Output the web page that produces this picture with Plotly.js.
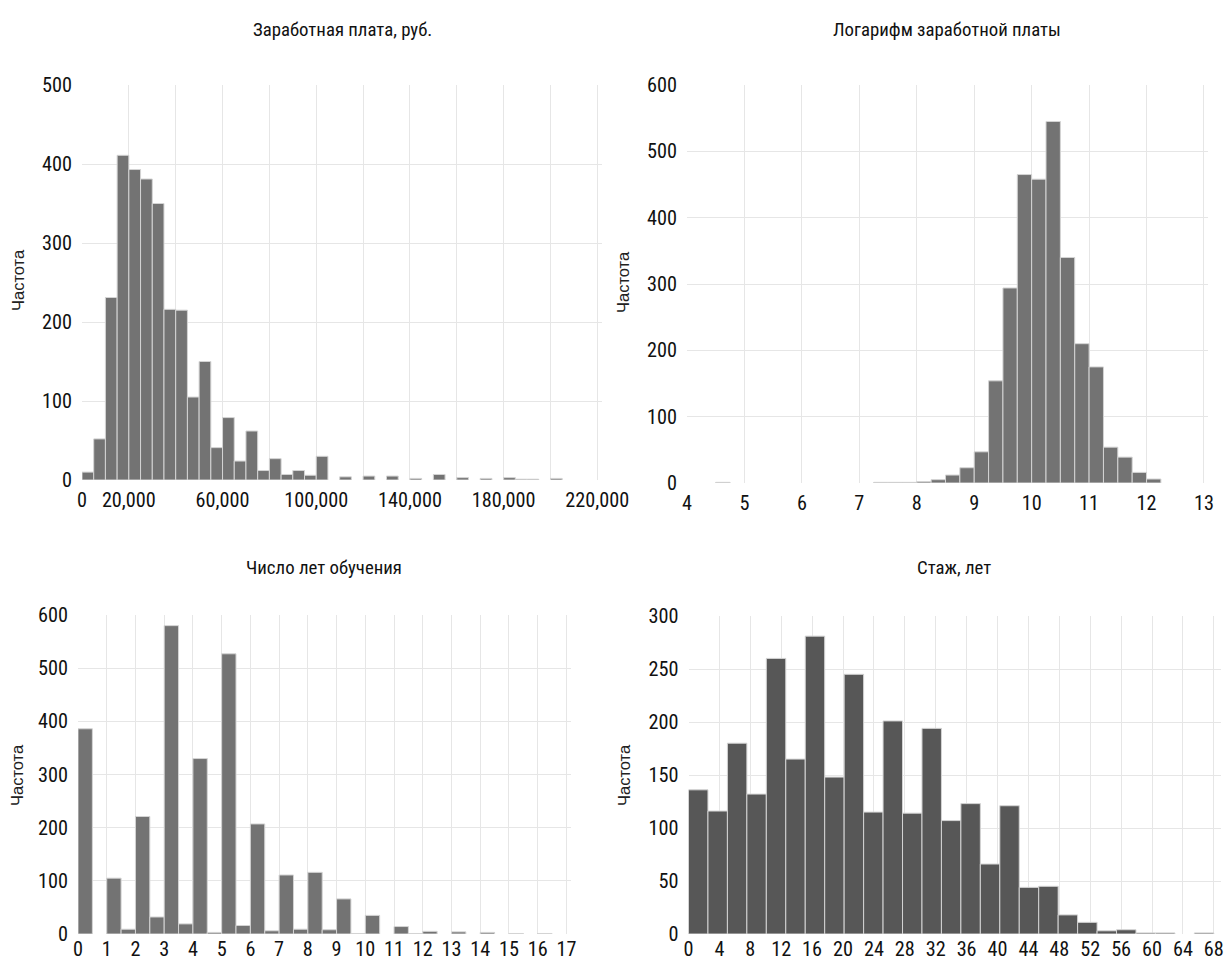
<!DOCTYPE html>
<html>
<head>
<meta charset="utf-8">
<script src="https://cdn.plot.ly/plotly-3.0.1.min.js"></script>
<style>
  html, body { margin: 0; padding: 0; background: #fff; }
  #chart { width: 1231px; height: 962px; }
</style>
</head>
<body>
<div id="chart"></div>
<script>
// ---------------- DATA ----------------
// Panel 1: wage, bins of 5000 starting at 0
const wageBinStart = 0;
const wageBinSize = 5000;
const wageCounts = [10, 52, 231, 411, 393, 381, 350, 216, 215, 105, 150, 41, 79, 24, 62, 12, 27, 7, 12, 6, 30,
                    0, 4, 0, 5, 0, 5, 0, 2, 0, 7, 0, 3, 0, 2, 0, 3, 1, 1, 0, 2];
const wageTickVals = [0, 20000, 40000, 60000, 80000, 100000, 120000, 140000, 160000, 180000, 200000, 220000];
const wageTickText = ["0", "20,000", "", "60,000", "", "100,000", "", "140,000", "", "180,000", "", "220,000"];

// Panel 2: log wage, bins of 0.25 starting at 4 (null = no bin)
const lnBinStart = 4;
const lnBinSize = 0.25;
const lnCounts = [null, null, 1, null, null, null, null, null, null, null, null, null, null,
                  1, 1, 1, 2, 5, 12, 23, 47, 154, 294, 465, 458, 545, 340, 210, 175, 54, 39, 16, 6];

// Panel 3: years of schooling, bins of 0.5 starting at 0
const eduBinStart = 0;
const eduBinSize = 0.5;
const eduCounts = [386, 0, 105, 9, 221, 32, 580, 19, 330, 3, 527, 16, 207, 6, 111, 9, 116, 8, 66, 1, 35, 0, 14, 1, 5, 0, 4, 0, 3, 0, 1, 0, 1, 0];

// Panel 4: experience, 27 bins over 0..68
const expBinStart = 0;
const expBinSize = 68 / 27;
const expCounts = [136, 116, 180, 132, 260, 165, 281, 148, 245, 115, 201, 114, 194, 107, 123, 66, 121, 44, 45, 18, 11, 3, 4, 1, 1, 0, 1];

const titles = ["Заработная плата, руб.", "Логарифм заработной платы", "Число лет обучения", "Стаж, лет"];
const yTitle = "Частота";

// ---------------- FONT PICK (narrowest installed condensed face) ----------------
const ctx = document.createElement("canvas").getContext("2d");
function measure(font, txt) {
  ctx.font = "100px " + font;
  return ctx.measureText(txt).width;
}
const probe = "0123456789 Заработная";
function installed(fam) {
  return measure('"' + fam + '", monospace', probe) !== measure("monospace", probe) ||
         measure('"' + fam + '", serif', probe) !== measure("serif", probe);
}
const candidates = ["Liberation Sans Narrow", "Arial Narrow", "Roboto Condensed", "Noto Sans Condensed",
                    "Open Sans Condensed", "DejaVu Sans Condensed"];
let fam = null;
for (const c of candidates) { if (installed(c)) { fam = c; break; } }
let useStretch = false;
if (!fam) { fam = "Noto Sans"; useStretch = true; }
const narrow = '"' + fam + '", "DejaVu Sans Condensed", sans-serif';
if (useStretch) {
  const axes = ["x", "x2", "x3", "x4", "y", "y2", "y3", "y4"];
  const sel = axes.map(a => "g." + a + "tick text").join(", ") +
              ", .annotation[data-index='0'] text, .annotation[data-index='1'] text," +
              " .annotation[data-index='2'] text, .annotation[data-index='3'] text";
  const st = document.createElement("style");
  st.textContent = sel + " { font-stretch: condensed; }";
  document.head.appendChild(st);
}

// ---------------- DRAW ----------------
const W = 1231, H = 962;
let tickSize = 20.5, titleSize = 18.5;
const gridColor = "#e6e6e6";

function centers(start, size, counts) {
  return counts.map((_, i) => start + size * (i + 0.5));
}
function barTrace(start, size, counts, xa, ya, fill) {
  return {
    type: "bar",
    x: centers(start, size, counts),
    y: counts.map(v => (v === 0 ? null : v)),
    width: counts.map(() => size),
    xaxis: xa, yaxis: ya,
    marker: {color: fill, line: {color: "#d4d4d4", width: 1}},
    hoverinfo: "x+y",
    showlegend: false
  };
}

const traces = [
  barTrace(wageBinStart, wageBinSize, wageCounts, "x", "y", "#737373"),
  barTrace(lnBinStart, lnBinSize, lnCounts, "x2", "y2", "#737373"),
  barTrace(eduBinStart, eduBinSize, eduCounts, "x3", "y3", "#737373"),
  barTrace(expBinStart, expBinSize, expCounts, "x4", "y4", "#575757")
];

function px(x) { return x / W; }
function py(y) { return 1 - y / H; }
function tf() { return {family: narrow, size: tickSize, color: "#111"}; }

function xaxisDef(l, r, range, standoff, extra) {
  return Object.assign({
    domain: [px(l), px(r)], range: range, showgrid: true, gridcolor: gridColor, gridwidth: 1,
    zeroline: false, showline: false, ticks: "", tickfont: tf(), ticklabelstandoff: standoff,
    fixedrange: true
  }, extra);
}
function yaxisDef(top, bottom, range, dtick, anchor) {
  return {
    domain: [py(bottom), py(top)], range: range, dtick: dtick, showgrid: true, gridcolor: gridColor,
    zeroline: false, showline: false, ticks: "", tickfont: tf(), ticklabelstandoff: 9,
    anchor: anchor, fixedrange: true
  };
}

const layout = {
  width: W, height: H,
  margin: {l: 0, r: 0, t: 0, b: 0},
  paper_bgcolor: "#fff", plot_bgcolor: "#fff",
  bargap: 0,
  xaxis: xaxisDef(82, 602, [0, 222000], 6, {tickmode: "array", tickvals: wageTickVals, ticktext: wageTickText, anchor: "y"}),
  yaxis: yaxisDef(85, 480, [0, 500], 100, "x"),
  xaxis2: xaxisDef(687, 1208, [4, 13.07], 6, {dtick: 1, anchor: "y2"}),
  yaxis2: yaxisDef(85, 483, [0, 600], 100, "x2"),
  xaxis3: xaxisDef(78, 571, [0, 17.16], 1, {dtick: 1, anchor: "y3"}),
  yaxis3: yaxisDef(615, 934, [0, 600], 100, "x3"),
  xaxis4: xaxisDef(688.5, 1221, [0, 68.93], 1, {dtick: 4, anchor: "y4"}),
  yaxis4: yaxisDef(616, 934, [0, 300], 50, "x4"),
  annotations: [
    {text: titles[0], x: px(342), y: py(30)},
    {text: titles[1], x: px(947), y: py(30)},
    {text: titles[2], x: px(324), y: py(568)},
    {text: titles[3], x: px(954), y: py(568)}
  ].map(a => Object.assign(a, {xref: "paper", yref: "paper", showarrow: false, xanchor: "center", yanchor: "middle",
                               font: {family: narrow, size: titleSize, color: "#111"}}))
  .concat([
    {x: px(18), y: py(280)},
    {x: px(623), y: py(282)},
    {x: px(17), y: py(775)},
    {x: px(624), y: py(775)}
  ].map(a => Object.assign(a, {text: yTitle, textangle: -90, xref: "paper", yref: "paper", showarrow: false,
                               xanchor: "center", yanchor: "middle",
                               font: {family: "Liberation Sans, Arial, sans-serif", size: 16.5, color: "#222"}})))
};

Plotly.newPlot("chart", traces, layout, {displayModeBar: false, staticPlot: true}).then(gd => {
  // calibrate sizes against the reference: title 3 ≈ 156px wide, tick "500" ≈ 30px wide
  const t = gd.querySelector(".annotation[data-index='2'] text");
  let tick500 = null;
  gd.querySelectorAll("g.ytick text").forEach(e => { if (e.textContent === "500") tick500 = e; });
  const upd = {};
  if (t) {
    const w = t.getBBox().width;
    if (w > 0) {
      const ns = Math.max(15, Math.min(21, titleSize * 156 / w));
      for (let i = 0; i < 4; i++) upd["annotations[" + i + "].font.size"] = ns;
    }
  }
  if (tick500) {
    const w = tick500.getBBox().width;
    if (w > 0) {
      const ns = Math.max(17, Math.min(23, tickSize * 30 / w));
      ["xaxis", "xaxis2", "xaxis3", "xaxis4", "yaxis", "yaxis2", "yaxis3", "yaxis4"]
        .forEach(a => { upd[a + ".tickfont.size"] = ns; });
    }
  }
  if (Object.keys(upd).length) Plotly.relayout(gd, upd);
});
</script>
</body>
</html>
